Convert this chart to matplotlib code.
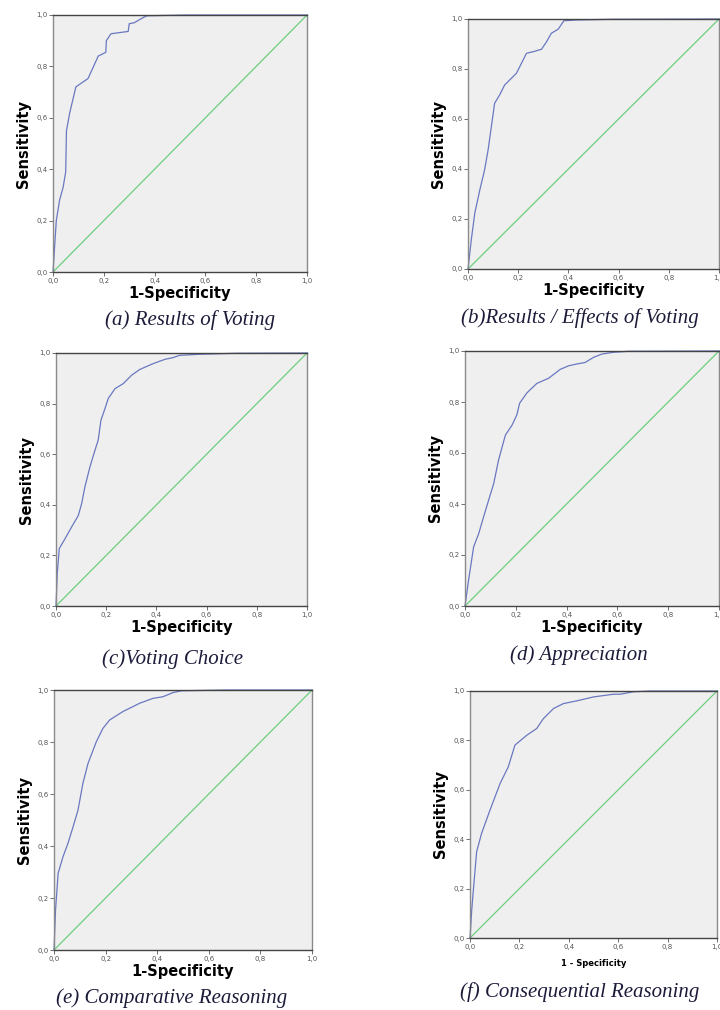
"""
Six ROC curves (SPSS style), one per reasoning category
"""

import matplotlib.pyplot as plt

# ROC points: 1-specificity (fpr) and sensitivity (tpr)
fpr_a = [0, 0.013, 0.026, 0.04, 0.05, 0.053, 0.066, 0.09, 0.138, 0.178, 0.208, 0.21,
         0.228, 0.296, 0.30, 0.32, 0.355, 0.37, 0.526, 1.0]
tpr_a = [0, 0.20, 0.28, 0.33, 0.39, 0.55, 0.62, 0.72, 0.753, 0.84, 0.855, 0.90,
         0.927, 0.936, 0.966, 0.97, 0.99, 0.997, 1.0, 1.0]

fpr_b = [0, 0.013, 0.027, 0.047, 0.066, 0.08, 0.093, 0.106, 0.126, 0.146, 0.193, 0.206,
         0.233, 0.259, 0.293, 0.313, 0.332, 0.359, 0.382, 0.432, 0.578, 1.0]
tpr_b = [0, 0.116, 0.223, 0.316, 0.396, 0.476, 0.569, 0.663, 0.696, 0.736, 0.783, 0.809,
         0.863, 0.869, 0.879, 0.909, 0.943, 0.959, 0.993, 0.996, 0.999, 1.0]

fpr_c = [0, 0.005, 0.013, 0.036, 0.062, 0.089, 0.102, 0.115, 0.135, 0.155, 0.168, 0.179,
         0.195, 0.208, 0.235, 0.268, 0.301, 0.334, 0.387, 0.434, 0.467, 0.493, 0.573,
         0.719, 1.0]
tpr_c = [0, 0.128, 0.227, 0.266, 0.312, 0.358, 0.404, 0.47, 0.549, 0.615, 0.655, 0.734,
         0.78, 0.82, 0.859, 0.879, 0.912, 0.935, 0.958, 0.975, 0.982, 0.991, 0.995,
         0.999, 1.0]

fpr_d = [0, 0.014, 0.034, 0.054, 0.073, 0.093, 0.113, 0.132, 0.159, 0.185, 0.204, 0.215,
         0.244, 0.283, 0.329, 0.375, 0.408, 0.44, 0.473, 0.506, 0.539, 0.585, 0.644, 1.0]
tpr_d = [0, 0.101, 0.232, 0.284, 0.349, 0.415, 0.48, 0.572, 0.67, 0.709, 0.749, 0.795,
         0.836, 0.873, 0.893, 0.928, 0.942, 0.949, 0.955, 0.975, 0.988, 0.995, 0.999, 1.0]

fpr_e = [0, 0.006, 0.016, 0.035, 0.054, 0.074, 0.093, 0.112, 0.132, 0.164, 0.19, 0.216,
         0.267, 0.332, 0.384, 0.422, 0.461, 0.494, 0.668, 1.0]
tpr_e = [0, 0.154, 0.295, 0.359, 0.41, 0.474, 0.538, 0.641, 0.718, 0.801, 0.853, 0.885,
         0.917, 0.949, 0.968, 0.974, 0.99, 0.997, 1.0, 1.0]

fpr_f = [0, 0.007, 0.016, 0.027, 0.047, 0.081, 0.122, 0.155, 0.182, 0.23, 0.27, 0.297,
         0.338, 0.378, 0.432, 0.5, 0.581, 0.608, 0.662, 0.73, 1.0]
tpr_f = [0, 0.114, 0.222, 0.35, 0.424, 0.518, 0.626, 0.693, 0.781, 0.821, 0.848, 0.888,
         0.929, 0.949, 0.96, 0.976, 0.987, 0.987, 0.997, 1.0, 1.0]

captions = ['(a) Results of Voting', '(b)Results / Effects of Voting', '(c)Voting Choice',
            '(d) Appreciation', '(e) Comparative Reasoning', '(f) Consequential Reasoning']
xlabels = ['1-Specificity'] * 5 + ['1 - Specificity']
ticks = [0, 0.2, 0.4, 0.6, 0.8, 1.0]
tick_labels = ['0,0', '0,2', '0,4', '0,6', '0,8', '1,0']

curves = [(fpr_a, tpr_a), (fpr_b, tpr_b), (fpr_c, tpr_c),
          (fpr_d, tpr_d), (fpr_e, tpr_e), (fpr_f, tpr_f)]

W, H = 720, 1010
# axes boxes in pixels: left, top, right, bottom
boxes = [(53, 15, 307, 272), (468, 19, 719, 269),
         (56, 353, 307, 606), (465, 351, 719, 606),
         (54, 690, 312, 950), (470, 691, 717, 938)]
# caption centres in pixels
cap_pos = [(190, 320), (580, 318), (173, 659), (579, 655), (172, 998), (580, 992)]

fig = plt.figure(figsize=(W / 100, H / 100), dpi=100)

for i, ((fx, ty), (l, t, r, b)) in enumerate(zip(curves, boxes)):
    ax = fig.add_axes([l / W, 1 - b / H, (r - l) / W, (b - t) / H])
    ax.set_facecolor('#efefef')
    ax.plot([0, 1], [0, 1], color='#6ccf7c', lw=0.9, clip_on=False)
    ax.plot(fx, ty, color='#6a78c0', lw=0.9, clip_on=False)
    ax.set_xlim(0, 1)
    ax.set_ylim(0, 1)
    ax.set_xticks(ticks)
    ax.set_yticks(ticks)
    ax.set_xticklabels(tick_labels)
    ax.set_yticklabels(tick_labels)
    ax.tick_params(labelsize=5, colors='#555555', length=3, width=0.6, pad=1)
    for side in ['top', 'bottom']:
        ax.spines[side].set_color('#444444')
        ax.spines[side].set_linewidth(1.0)
    for side in ['left', 'right']:
        ax.spines[side].set_color('#8a8a8a')
        ax.spines[side].set_linewidth(1.0)
    if i == 5:
        ax.set_xlabel(xlabels[i], fontsize=6, fontweight='bold', labelpad=7)
    else:
        ax.set_xlabel(xlabels[i], fontsize=10.5, fontweight='bold', labelpad=2)
    ax.set_ylabel('Sensitivity', fontsize=10.5, fontweight='bold', labelpad=4)
    cx, cy = cap_pos[i]
    fig.text(cx / W, 1 - cy / H, captions[i], ha='center', va='center',
             fontsize=15, style='italic', family='Liberation Serif', color='#1c1c3a')

plt.savefig('out.png', dpi=100)
